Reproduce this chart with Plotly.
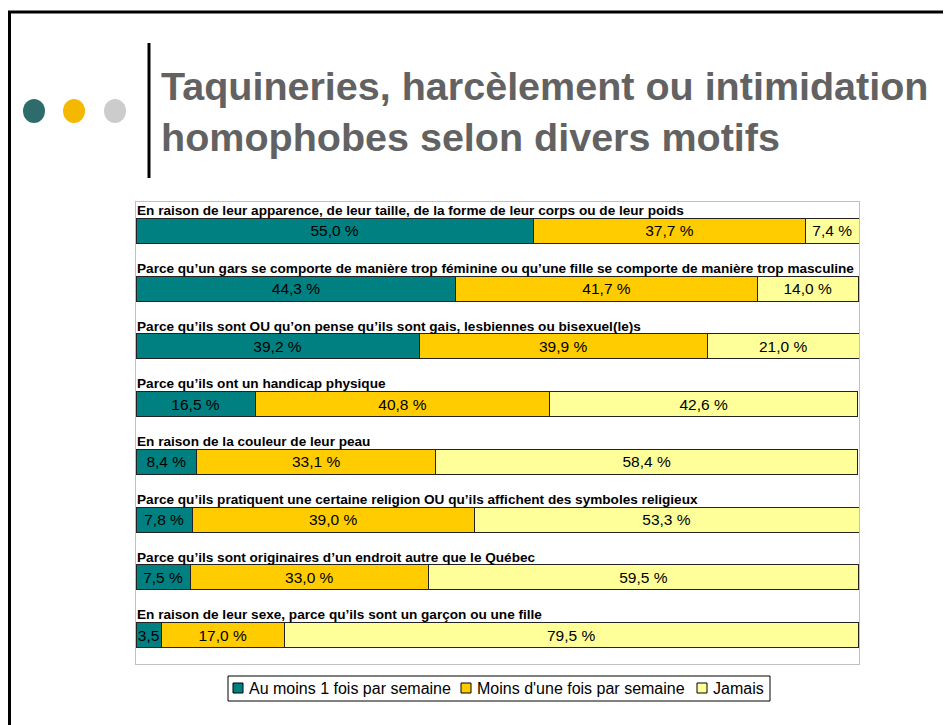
"""Homophobic teasing chart: stacked horizontal bars, one row per motive."""

import plotly.graph_objects as go

# the page body keeps its 8px margin, so the figure is offset by it
OFF = 8
W, H = 951 - OFF, 725 - OFF

categories = [
    "En raison de leur apparence, de leur taille, de la forme de leur corps ou de leur poids",
    "Parce qu\u2019un gars se comporte de manière trop féminine ou qu\u2019une fille se comporte de manière trop masculine",
    "Parce qu\u2019ils sont OU qu\u2019on pense qu\u2019ils sont gais, lesbiennes ou bisexuel(le)s",
    "Parce qu\u2019ils ont un handicap physique",
    "En raison de la couleur de leur peau",
    "Parce qu\u2019ils pratiquent une certaine religion OU qu\u2019ils affichent des symboles religieux",
    "Parce qu\u2019ils sont originaires d\u2019un endroit autre que le Québec",
    "En raison de leur sexe, parce qu\u2019ils sont un garçon ou une fille",
]
weekly = [55.0, 44.3, 39.2, 16.5, 8.4, 7.8, 7.5, 3.5]
less_than_weekly = [37.7, 41.7, 39.9, 40.8, 33.1, 39.0, 33.0, 17.0]
never = [7.4, 14.0, 21.0, 42.6, 58.4, 53.3, 59.5, 79.5]

series_names = ["Au moins 1 fois par semaine", "Moins d'une fois par semaine", "Jamais"]
series_colors = ["#008080", "#FFCC00", "#FFFF99"]

FONT = "Arial, Liberation Sans, sans-serif"


def px_x(p):
    return (p - OFF) / W


def px_y(p):
    return 1 - (p - OFF) / H


def pct(v):
    # the narrowest segment only has room for the number (clipped in original)
    s = f"{v:.1f}".replace(".", ",")
    return s if v < 5 else s + " %"


rows = list(range(len(categories)))

fig = go.Figure()

for name, color, vals in zip(series_names, series_colors, [weekly, less_than_weekly, never]):
    fig.add_trace(
        go.Bar(
            x=vals,
            y=rows,
            orientation="h",
            name=name,
            width=0.43,
            marker=dict(color=color, line=dict(color="#222222", width=1)),
            text=[pct(v) for v in vals],
            textposition="inside",
            insidetextanchor="middle",
            textangle=0,
            constraintext="none",
            textfont=dict(family=FONT, size=15.5, color="black"),
            hoverinfo="skip",
            showlegend=False,
        )
    )

# category labels above each bar
for i, cat in enumerate(categories):
    fig.add_annotation(
        x=0, y=i - 0.35, xref="x", yref="y",
        text=f"<b>{cat}</b>", showarrow=False,
        xanchor="left", yanchor="middle", xshift=-1,
        font=dict(family=FONT, size=13.6, color="black"),
    )

# slide decoration
shapes = [
    dict(type="line", xref="paper", yref="paper",
         x0=px_x(9.5), x1=px_x(9.5), y0=px_y(11), y1=px_y(H + 30),
         line=dict(color="black", width=3)),
    dict(type="line", xref="paper", yref="paper",
         x0=px_x(8), x1=px_x(W + 30), y0=px_y(12), y1=px_y(12),
         line=dict(color="black", width=3)),
    dict(type="line", xref="paper", yref="paper",
         x0=px_x(149), x1=px_x(149), y0=px_y(43), y1=px_y(178),
         line=dict(color="black", width=3)),
]
for cx, col in [(34, "#2E6B6B"), (74, "#F5B800"), (115, "#CCCCCC")]:
    shapes.append(dict(type="circle", xref="paper", yref="paper",
                       x0=px_x(cx - 11), x1=px_x(cx + 11),
                       y0=px_y(99), y1=px_y(123),
                       fillcolor=col, line=dict(width=0)))

# legend box drawn like the original (square swatch + label)
shapes.append(dict(type="rect", xref="paper", yref="paper",
                   x0=px_x(228), x1=px_x(770), y0=px_y(676), y1=px_y(701),
                   line=dict(color="black", width=1), fillcolor="white"))
for name, color, sx in zip(series_names, series_colors, [233, 461, 697]):
    shapes.append(dict(type="rect", xref="paper", yref="paper",
                       x0=px_x(sx), x1=px_x(sx + 10), y0=px_y(683), y1=px_y(693),
                       line=dict(color="black", width=1), fillcolor=color))
    fig.add_annotation(
        x=px_x(sx + 14), y=px_y(688.5), xref="paper", yref="paper",
        text=name, showarrow=False, xanchor="left", yanchor="middle",
        font=dict(family=FONT, size=16, color="black"),
    )

fig.add_annotation(
    x=px_x(159), y=px_y(112), xref="paper", yref="paper",
    text="<b>Taquineries, harcèlement ou intimidation<br>homophobes selon divers motifs</b>",
    showarrow=False, xanchor="left", yanchor="middle", align="left",
    font=dict(family=FONT, size=39.5, color="#626262"),
)

fig.update_layout(
    width=W, height=H,
    barmode="stack",
    paper_bgcolor="white",
    plot_bgcolor="white",
    margin=dict(l=0, r=0, t=0, b=0),
    shapes=shapes,
    xaxis=dict(
        domain=[px_x(136), px_x(859)], range=[0, 100.1],
        showgrid=False, zeroline=False, showticklabels=False, ticks="",
        showline=True, mirror=True, linecolor="#C0C0C0", linewidth=1,
        fixedrange=True,
    ),
    yaxis=dict(
        domain=[px_y(664), px_y(202)], range=[7.5, -0.5],
        showgrid=False, zeroline=False, showticklabels=False, ticks="",
        showline=True, mirror=True, linecolor="#C0C0C0", linewidth=1,
        fixedrange=True,
    ),
    showlegend=False,
)

fig.write_html("out.html")
